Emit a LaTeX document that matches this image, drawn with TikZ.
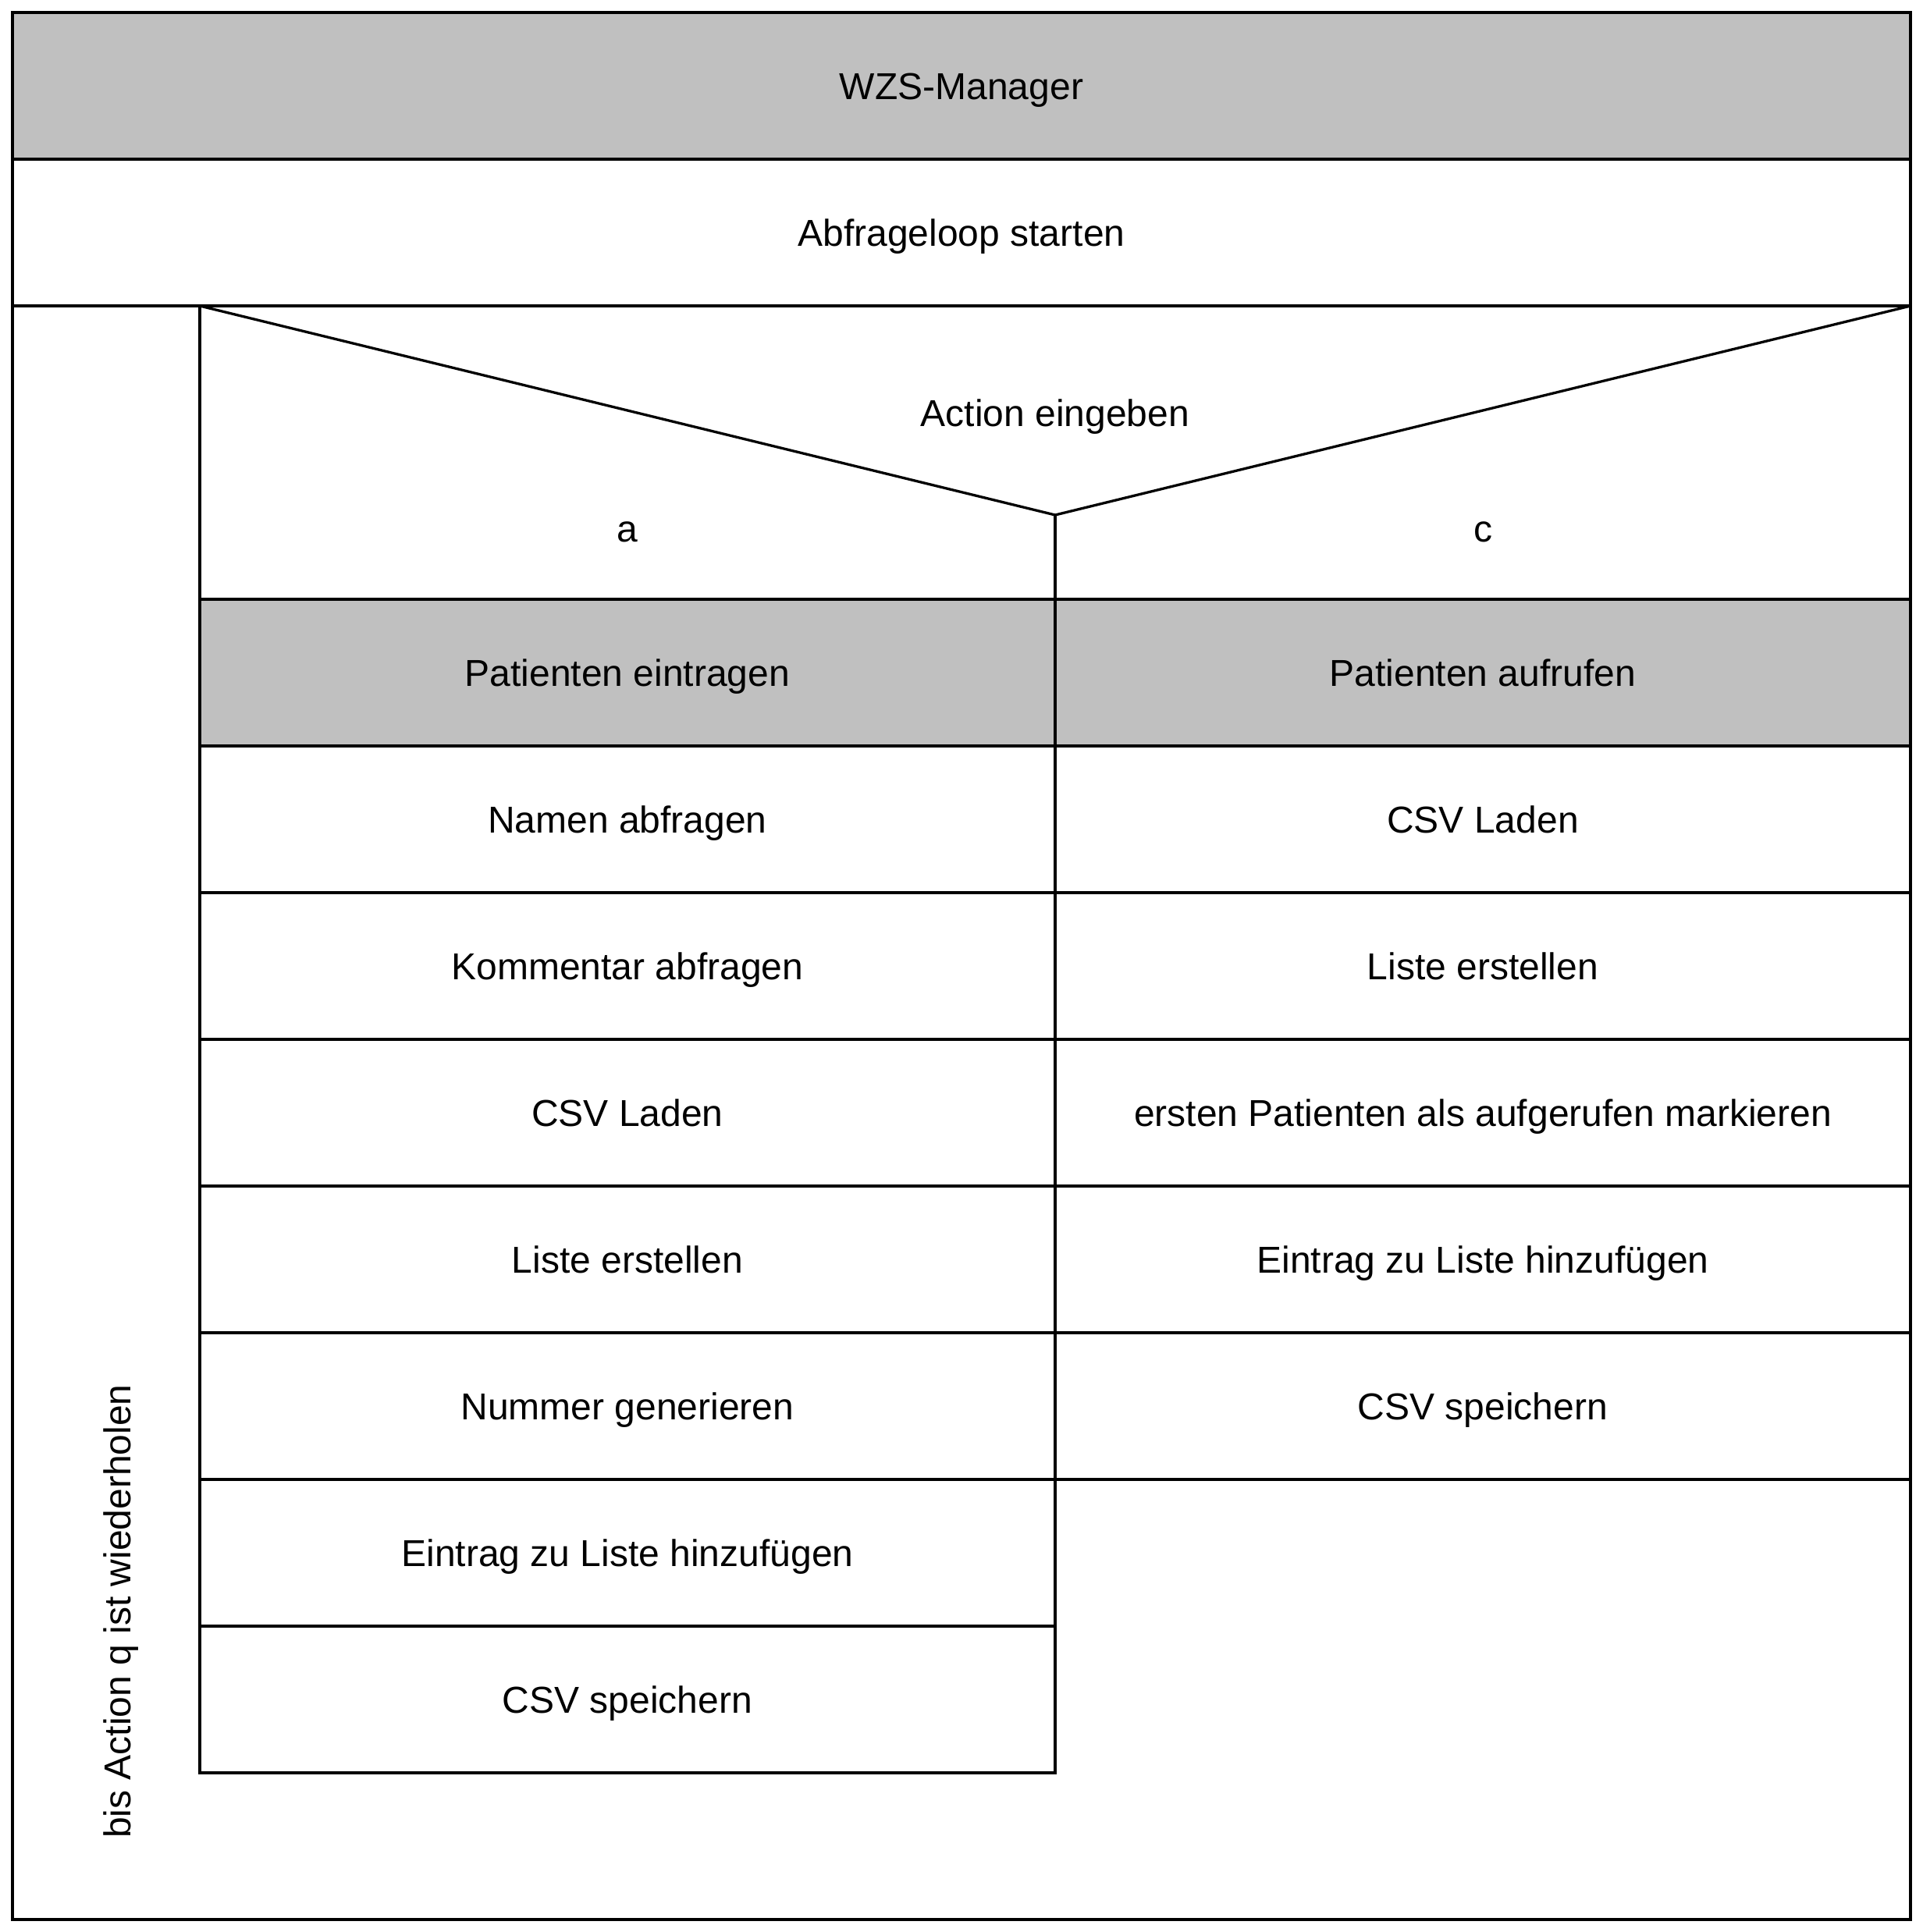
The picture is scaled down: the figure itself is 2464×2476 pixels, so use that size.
\documentclass[tikz,border=0pt]{standalone}
\usepackage{fontspec}
\setmainfont{Liberation Sans}
\definecolor{hdrgray}{RGB}{192,192,192}
\tikzset{
  every picture/.style={line width=3.3pt},
  lbl/.style={font=\fontsize{48}{58}\selectfont, inner sep=0pt},
  cell/.style={draw=black, lbl, minimum height=188pt, text height=35pt, text depth=0pt, line width=3.3pt, outer sep=0pt},
  hdrcell/.style={cell, fill=hdrgray},
  halfcell/.style={cell, minimum width=1096pt},
  fullcell/.style={cell, minimum width=2432pt}
}
\begin{document}
\begin{tikzpicture}[x=1pt,y=-1pt]
\useasboundingbox (0,0) rectangle (2464,2476);
\fill[white] (0,0) rectangle (2464,2476);
% outer frame (loop body)
\draw[line width=3.3pt] (16,16) rectangle (2448,2460);
% header and first statement
\node[fullcell, hdrcell] (title) at (1232,110) {WZS-Manager};
\node[fullcell] (start) at (1232,298) {Abfrageloop starten};
% decision block
\coordinate (dtl) at (256,392);
\coordinate (dtr) at (2448,392);
\coordinate (apex) at (1352,660);
\coordinate (dbm) at (1352,768);
\draw[line join=miter] (dtl) -- (apex) -- (dtr);
\draw (apex) -- (dbm);
\node[lbl, anchor=base] (dec) at (1352,546) {Action eingeben};
\node[lbl, anchor=base] (ca) at (804,694) {a};
\node[lbl, anchor=base] (cc) at (1900,694) {c};
% left branch
\node[halfcell, hdrcell] (l0) at (804,862) {Patienten eintragen};
\node[halfcell] (l1) at (804,1050) {Namen abfragen};
\node[halfcell] (l2) at (804,1238) {Kommentar abfragen};
\node[halfcell] (l3) at (804,1426) {CSV Laden};
\node[halfcell] (l4) at (804,1614) {Liste erstellen};
\node[halfcell] (l5) at (804,1802) {Nummer generieren};
\node[halfcell] (l6) at (804,1990) {Eintrag zu Liste hinzufügen};
\node[halfcell] (l7) at (804,2178) {CSV speichern};
% right branch
\node[halfcell, hdrcell] (r0) at (1900,862) {Patienten aufrufen};
\node[halfcell] (r1) at (1900,1050) {CSV Laden};
\node[halfcell] (r2) at (1900,1238) {Liste erstellen};
\node[halfcell] (r3) at (1900,1426) {ersten Patienten als aufgerufen markieren};
\node[halfcell] (r4) at (1900,1614) {Eintrag zu Liste hinzufügen};
\node[halfcell] (r5) at (1900,1802) {CSV speichern};
% inner left edge of loop body
\draw (dtl) -- (l0.north west);
% loop condition
\node[lbl, anchor=base, rotate=90] (loopcond) at (167,2065) {bis Action q ist wiederholen};
\end{tikzpicture}
\end{document}
